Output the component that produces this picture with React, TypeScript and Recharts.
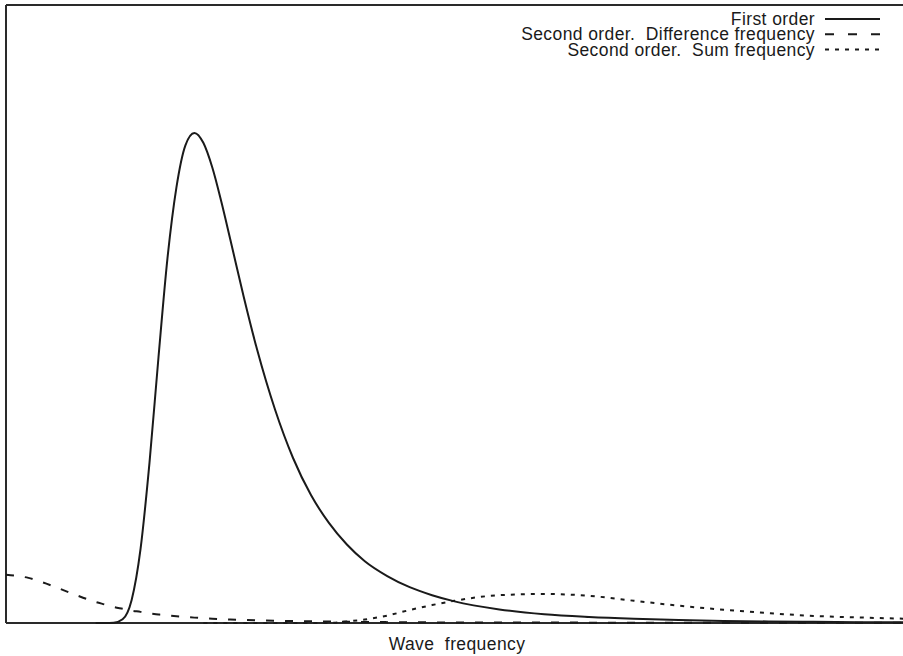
import { LineChart, Line, XAxis, YAxis, ReferenceLine } from 'recharts'

// wave frequency (rad/s)
const freq = [
  0, 0.05, 0.1, 0.15, 0.2, 0.22, 0.24, 0.26, 0.28, 0.3, 0.32, 0.34, 0.36, 0.38, 0.4, 0.42, 0.44,
  0.46, 0.48, 0.5, 0.53, 0.56, 0.6, 0.64, 0.68, 0.72, 0.76, 0.8, 0.85, 0.9, 0.95, 1.0, 1.1, 1.2,
  1.3, 1.4, 1.5, 1.6, 1.7, 1.8, 1.9, 2.0,
]

// spectral density, fraction of full scale
const firstOrder = [
  null, null, null, null, 0, 0, 0.0004, 0.006, 0.037, 0.12, 0.26, 0.43, 0.59, 0.705, 0.773, 0.793,
  0.777, 0.737, 0.682, 0.621, 0.528, 0.442, 0.345, 0.267, 0.207, 0.162, 0.127, 0.1, 0.076, 0.058,
  0.045, 0.035, 0.022, 0.014, 0.0096, 0.0067, 0.0047, 0.0034, 0.0025, 0.0019, 0.0014, 0.0011,
]

const diffFreq = [
  0.078, 0.073, 0.061, 0.047, 0.034, 0.03, 0.026, 0.023, 0.02, 0.018, 0.0155, 0.0138, 0.0122,
  0.0108, 0.0097, 0.0087, 0.0078, 0.007, 0.0063, 0.0057, 0.005, 0.0044, 0.0037, 0.0032, 0.0027,
  0.0023, 0.002, 0.0017, 0.0014, 0.0012, 0.001, 0.0009, 0.0008, 0.0007, 0.0006, 0.0006, 0.0005,
  0.0005, 0.0005, 0.0004, 0.0004, 0.0004,
]

const sumFreq = [
  null, null, null, null, null, null, null, null, null, null, null, null, null, null, null, null,
  0, 0, 0, 0, 0, 0, 0, 0, 0, 0, 0.0025, 0.0057, 0.012, 0.021, 0.029, 0.036, 0.045, 0.047, 0.044,
  0.036, 0.028, 0.0215, 0.016, 0.0115, 0.009, 0.007,
]

const legendItems = [
  { label: 'First order', dash: undefined },
  { label: 'Second order.  Difference frequency', dash: '9 14' },
  { label: 'Second order.  Sum frequency', dash: '4 6' },
]

const data = freq.map((f, i) => ({
  f,
  first: firstOrder[i],
  diff: diffFreq[i],
  sum: sumFreq[i],
}))

const ink = '#1a1a1a'
const frame = '#2a2a2a'
const font = '"Liberation Sans", Arial, Helvetica, sans-serif'

export default function App() {
  return (
    <div style={{ position: 'absolute', left: 0, top: 0, width: 903, height: 656, background: '#fff' }}>
      <LineChart width={903} height={656} data={data} margin={{ top: 5, right: 0, left: 6, bottom: 33 }}>
        <XAxis dataKey="f" type="number" domain={[0, 2]} hide />
        <YAxis type="number" domain={[0, 1]} hide />
        <ReferenceLine y={1} stroke={frame} strokeWidth={2} />
        <ReferenceLine y={0} stroke={frame} strokeWidth={2} />
        <ReferenceLine x={0} stroke={frame} strokeWidth={2} />
        <Line type="monotone" dataKey="diff" stroke={ink} strokeWidth={2} strokeDasharray="8 11" dot={false} isAnimationActive={false} />
        <Line type="monotone" dataKey="sum" stroke={ink} strokeWidth={2} strokeDasharray="4 6" dot={false} isAnimationActive={false} />
        <Line type="monotone" dataKey="first" stroke={ink} strokeWidth={2} dot={false} isAnimationActive={false} />
      </LineChart>
      <svg width={903} height={656} style={{ position: 'absolute', left: 0, top: 0, pointerEvents: 'none' }}>
        {legendItems.map((item, i) => (
          <g key={item.label}>
            <text
              x={815}
              y={25 + i * 15.3}
              textAnchor="end"
              fontFamily={font}
              fontSize={17.5}
              letterSpacing={0.4}
              fill={ink}
            >
              {item.label.replace(/ /g, '\u00a0')}
            </text>
            <line
              x1={825}
              x2={880}
              y1={19 + i * 15.3}
              y2={19 + i * 15.3}
              stroke={ink}
              strokeWidth={2}
              strokeDasharray={item.dash}
            />
          </g>
        ))}
        <text x={457} y={650} textAnchor="middle" fontFamily={font} fontSize={17.5} letterSpacing={0.4} fill={ink}>
          {'Wave\u00a0\u00a0frequency'}
        </text>
      </svg>
    </div>
  )
}
